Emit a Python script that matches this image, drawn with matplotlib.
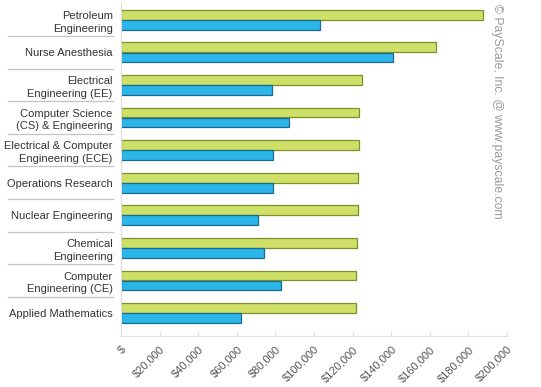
import matplotlib.pyplot as plt
import numpy as np

plt.rcParams["font.family"] = ["Liberation Sans", "DejaVu Sans"]

majors = [
    "Petroleum\nEngineering",
    "Nurse Anesthesia",
    "Electrical\nEngineering (EE)",
    "Computer Science\n(CS) & Engineering",
    "Electrical & Computer\nEngineering (ECE)",
    "Operations Research",
    "Nuclear Engineering",
    "Chemical\nEngineering",
    "Computer\nEngineering (CE)",
    "Applied Mathematics",
]
# green = mid-career pay, blue = starting pay
mid_career = [187600, 163200, 124900, 123300, 123300, 122800, 122800, 122300, 121800, 121500]
starting = [103100, 140900, 78200, 87000, 78800, 78800, 71000, 74100, 82900, 62200]

x_ticks = [0, 20000, 40000, 60000, 80000, 100000, 120000, 140000, 160000, 180000, 200000]
x_tick_labels = ["$", "$20,000", "$40,000", "$60,000", "$80,000", "$100,000",
                 "$120,000", "$140,000", "$160,000", "$180,000", "$200,000"]

fig = plt.figure(figsize=(5.41, 3.87), dpi=100)
ax = fig.add_axes([0.2237, 0.132, 0.7135, 0.859])

y = np.arange(len(majors))
bar_h = 0.3
ax.barh(y - 0.155, mid_career, height=bar_h, color="#cfe068",
        edgecolor="#7f8f2e", linewidth=0.9)
ax.barh(y + 0.155, starting, height=bar_h, color="#2cb5e8",
        edgecolor="#1b6a92", linewidth=0.9)

ax.set_ylim(9.7, -0.5)
ax.set_xlim(0, 200000)
ax.set_yticks(y)
ax.set_yticklabels(majors, fontsize=8, color="#333333", linespacing=1.35)
ax.tick_params(axis="y", length=0, pad=6)

ax.set_xticks(x_ticks)
ax.set_xticklabels(x_tick_labels, rotation=45, ha="right", va="top",
                   rotation_mode="anchor", fontsize=8, color="#555555")
ax.tick_params(axis="x", direction="in", length=3, color="#dddddd", pad=6)

for side in ("top", "right"):
    ax.spines[side].set_visible(False)
for side in ("left", "bottom"):
    ax.spines[side].set_color("#dddddd")

# separator lines between category labels
trans = ax.get_yaxis_transform()
for b in np.arange(0.5, len(majors) - 1, 1.0):
    ax.plot([-0.293, -0.021], [b, b], transform=trans, color="#c4c4c4",
            linewidth=0.9, clip_on=False)

fig.text(497 / 541, 1 - 4 / 387, "\u00a9 PayScale, Inc. @ www.payscale.com",
         rotation=-90, ha="center", va="top", fontsize=8.8, color="#999999")

fig.savefig("out.png", dpi=100)
